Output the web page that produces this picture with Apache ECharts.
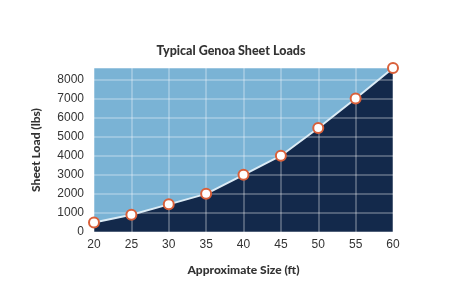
<!DOCTYPE html>
<html><head><meta charset="utf-8">
<script src="https://cdn.jsdelivr.net/npm/echarts@6/dist/echarts.min.js"></script>
<style>html,body{margin:0;padding:0;background:#fff}#c{width:462px;height:305px}</style>
</head><body><div id="c"></div>
<script>
const sizes = [20, 25, 30, 35, 40, 45, 50, 55, 60];
const loads = [500, 900, 1450, 2000, 3000, 4000, 5450, 7000, 8600];
const titleText = 'Typical Genoa Sheet Loads';
const xName = 'Approximate Size (ft)';
const yName = 'Sheet Load (lbs)';
const pts = sizes.map((s, i) => [s, loads[i]]);
const chart = echarts.init(document.getElementById('c'));
const split = {show: true, lineStyle: {color: 'rgba(255,255,255,0.35)', width: 1.5}};
const tickFont = "'Liberation Sans', Arial, sans-serif";
chart.setOption({
  animation: false,
  title: {text: titleText, left: 'center', top: 39, textStyle: {fontFamily: 'Lato', fontWeight: 900, fontSize: 12.5, color: '#333'}},
  grid: {left: 94, right: 69, top: 68, bottom: 73, show: true, backgroundColor: '#7ab3d5', borderWidth: 0},
  xAxis: {type: 'value', min: 20, max: 60, interval: 5, z: 3,
    name: xName, nameLocation: 'middle', nameGap: 32,
    nameTextStyle: {fontFamily: 'Lato', fontWeight: 900, fontSize: 12, color: '#333'},
    axisLine: {show: false}, axisTick: {show: false},
    axisLabel: {color: '#333', fontFamily: tickFont, fontSize: 12, margin: 7, formatter: v => String(v)},
    splitLine: split},
  yAxis: {type: 'value', min: 0, max: 8600, interval: 1000, z: 3,
    name: yName, nameLocation: 'middle', nameGap: 52,
    nameTextStyle: {fontFamily: 'Lato', fontWeight: 900, fontSize: 12, color: '#333'},
    axisLine: {show: false}, axisTick: {show: false},
    axisLabel: {color: '#333', fontFamily: tickFont, fontSize: 12, margin: 10, showMaxLabel: false, formatter: v => String(v)},
    splitLine: split},
  series: [
    {type: 'line', data: pts, z: 1, symbol: 'none', lineStyle: {width: 0}, areaStyle: {color: '#13294b', opacity: 1}},
    {type: 'line', data: pts, z: 5, symbol: 'circle', symbolSize: 10,
      lineStyle: {color: '#dcecf6', width: 2},
      itemStyle: {color: '#fff', borderColor: '#d9603a', borderWidth: 2}}
  ]
});
</script></body></html>
